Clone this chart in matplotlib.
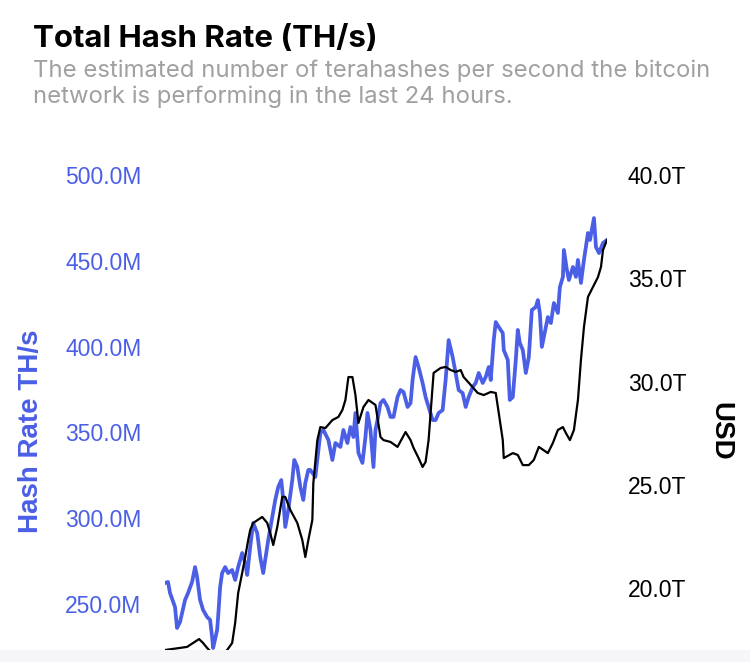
import matplotlib.pyplot as plt
from matplotlib.patches import Rectangle
from matplotlib.ticker import FuncFormatter

# Data: day offset from start of window
hash_days = [0, 3, 5, 10, 12, 15, 17, 20, 23, 27, 30, 32, 35, 38, 42, 45, 47, 48, 52, 53,
             55, 57, 60, 63, 67, 70, 73, 77, 80, 82, 85, 88, 92, 95, 98, 100, 103, 107, 110, 113,
             116, 118, 120, 123, 127, 129, 132, 135, 138, 140, 143, 145, 150, 155, 158, 163, 167, 170, 175, 178,
             182, 185, 188, 190, 193, 197, 200, 202, 205, 208, 210, 212, 215, 218, 222, 225, 228, 232, 235, 238,
             242, 245, 247, 250, 253, 257, 260, 263, 267, 270, 273, 277, 280, 283, 287, 290, 293, 297, 300, 303,
             307, 310, 313, 317, 320, 323, 325, 328, 330, 333, 337, 338, 342, 344, 347, 350, 352, 354, 357, 360,
             363, 366, 370, 372, 374, 376, 378, 382, 385, 388, 392, 394, 397, 398, 401, 403, 407, 410, 412, 415,
             418, 422, 424, 428, 430, 433, 437, 441]
hash_rate = [262.2, 262.8, 256.4, 248.2, 236.0, 239.5, 244.7, 252.3, 256.4, 262.8, 271.5, 265.7, 252.3, 246.5, 242.4, 240.7, 230.7, 224.3, 234.8, 242.4,
             259.9, 268.0, 271.5, 268.0, 269.8, 264.0, 271.5, 279.7, 273.9, 266.9, 283.2, 297.2, 291.4, 277.4, 268.0, 275.6, 287.3, 300.7, 310.6, 318.2,
             322.2, 310.6, 294.9, 304.8, 322.2, 333.9, 329.8, 318.2, 310.6, 320.5, 328.1, 328.1, 324.0, 349.6, 351.4, 345.6, 333.9, 343.8, 341.5, 351.4,
             343.8, 353.1, 347.3, 361.3, 338.0, 332.2, 347.3, 361.3, 351.4, 329.8, 351.4, 357.2, 367.1, 368.9, 364.8, 359.0, 359.0, 370.6, 374.7, 373.5,
             364.8, 367.1, 380.5, 393.9, 388.1, 378.8, 370.6, 364.8, 357.2, 357.2, 361.3, 363.0, 380.5, 403.8, 393.9, 384.6, 374.7, 372.9, 364.8, 370.6,
             376.4, 378.8, 384.6, 378.8, 382.3, 388.1, 380.5, 403.8, 414.3, 411.4, 407.9, 398.0, 392.2, 368.9, 370.6, 392.2, 409.7, 402.1, 398.0, 384.6,
             393.9, 421.3, 423.1, 427.1, 419.6, 399.8, 405.6, 417.2, 413.7, 425.4, 419.6, 434.7, 440.6, 456.3, 444.6, 438.8, 446.4, 440.6, 450.5, 437.1,
             450.5, 466.2, 462.1, 474.9, 458.0, 454.5, 460.4, 462.1]  # million TH/s

usd_days = [0, 22, 28, 34, 38, 42, 52, 62, 67, 70, 73, 77, 80, 83, 85, 88, 97, 102, 105, 108,
            112, 117, 120, 125, 132, 137, 140, 143, 147, 148, 152, 155, 160, 167, 173, 177, 180, 183, 187, 190,
            193, 198, 203, 210, 215, 218, 225, 232, 240, 245, 248, 253, 257, 260, 263, 265, 268, 275, 280, 285,
            290, 295, 298, 305, 312, 318, 325, 330, 333, 337, 338, 347, 352, 357, 363, 368, 373, 382, 387, 392,
            397, 400, 404, 408, 412, 415, 418, 422, 427, 432, 435, 437, 441]
usd = [17.01, 17.16, 17.35, 17.54, 17.35, 17.11, 16.6, 17.01, 17.35, 18.32, 19.77, 20.74, 21.51, 22.33, 22.82, 23.16, 23.45, 23.16, 22.67, 22.09,
       22.96, 24.42, 24.42, 23.79, 23.16, 22.33, 21.51, 22.33, 23.30, 25.09, 27.17, 27.80, 27.75, 28.14, 28.29, 28.63, 29.11, 30.22, 30.22, 29.35,
       28.00, 28.77, 29.11, 28.87, 27.32, 27.17, 27.08, 26.84, 27.56, 27.17, 26.79, 26.30, 25.87, 26.11, 27.17, 28.48, 30.42, 30.66, 30.71, 30.56,
       30.47, 30.56, 30.22, 29.84, 29.45, 29.35, 29.50, 29.45, 28.48, 27.17, 26.30, 26.54, 26.45, 25.96, 25.96, 26.21, 26.84, 26.54, 27.03, 27.66,
       27.80, 27.51, 27.17, 27.66, 29.11, 31.05, 32.64, 34.10, 34.58, 35.06, 35.55, 36.37, 36.85]  # trillion

left_ticks = [250, 300, 350, 400, 450, 500]
right_ticks = [20, 25, 30, 35, 40]

blue = '#4a5fe6'
W, H = 750, 662

fig = plt.figure(figsize=(W / 100, H / 100), dpi=100)
fig.patch.set_facecolor('white')

# axes runs a little past the bottom of the image, like the cropped original
ax = fig.add_axes([165 / W, (H - 687) / H, 442 / W, 512 / H])
ax.plot(hash_days, hash_rate, color=blue, lw=2.7)
ax.set_ylim(201.6, 500)
ax.set_xlim(0, 441)
ax.set_yticks(left_ticks)
ax.yaxis.set_major_formatter(FuncFormatter(lambda v, p: f'{v:.1f}M'))
ax.tick_params(axis='y', length=0, pad=17, labelsize=16.5, labelcolor=blue)
ax.set_xticks([])
for s in ax.spines.values():
    s.set_visible(False)

ax2 = ax.twinx()
ax2.plot(usd_days, usd, color='black', lw=1.6)
ax2.set_ylim(15.22, 40)
ax2.set_yticks(right_ticks)
ax2.yaxis.set_major_formatter(FuncFormatter(lambda v, p: f'{v:.1f}T'))
ax2.tick_params(axis='y', length=0, pad=15, labelsize=16.5, labelcolor='black')
for s in ax2.spines.values():
    s.set_visible(False)

for lab in ax.get_yticklabels() + ax2.get_yticklabels():
    lab.set_family('Liberation Sans')

ax.text(-0.303, 0.5, 'Hash Rate TH/s', transform=ax.transAxes, rotation=90,
        ha='center', va='center', color=blue, fontsize=20, fontweight='bold',
        family='Liberation Sans')
ax.text(1.256, 0.5, 'USD', transform=ax.transAxes, rotation=270,
        ha='center', va='center', color='black', fontsize=20, fontweight='bold',
        family='Liberation Sans')

fig.text(33 / W, 1 - 47 / H, 'Total Hash Rate (TH/s)', fontsize=22.5,
         fontweight='bold', family='Inter', va='baseline', ha='left', color='black')
fig.text(33 / W, 1 - 77.5 / H, 'The estimated number of terahashes per second the bitcoin',
         fontsize=17.2, family='Inter', va='baseline', ha='left', color='#a0a0a0')
fig.text(33 / W, 1 - 103.5 / H, 'network is performing in the last 24 hours.',
         fontsize=17.2, family='Inter', va='baseline', ha='left', color='#a0a0a0')

# light strip at the bottom edge of the capture
fig.add_artist(Rectangle((0, 0), 1, 12 / H, transform=fig.transFigure,
                         facecolor='#f6f6f8', edgecolor='none', zorder=10))

fig.savefig('out.png', dpi=100)
